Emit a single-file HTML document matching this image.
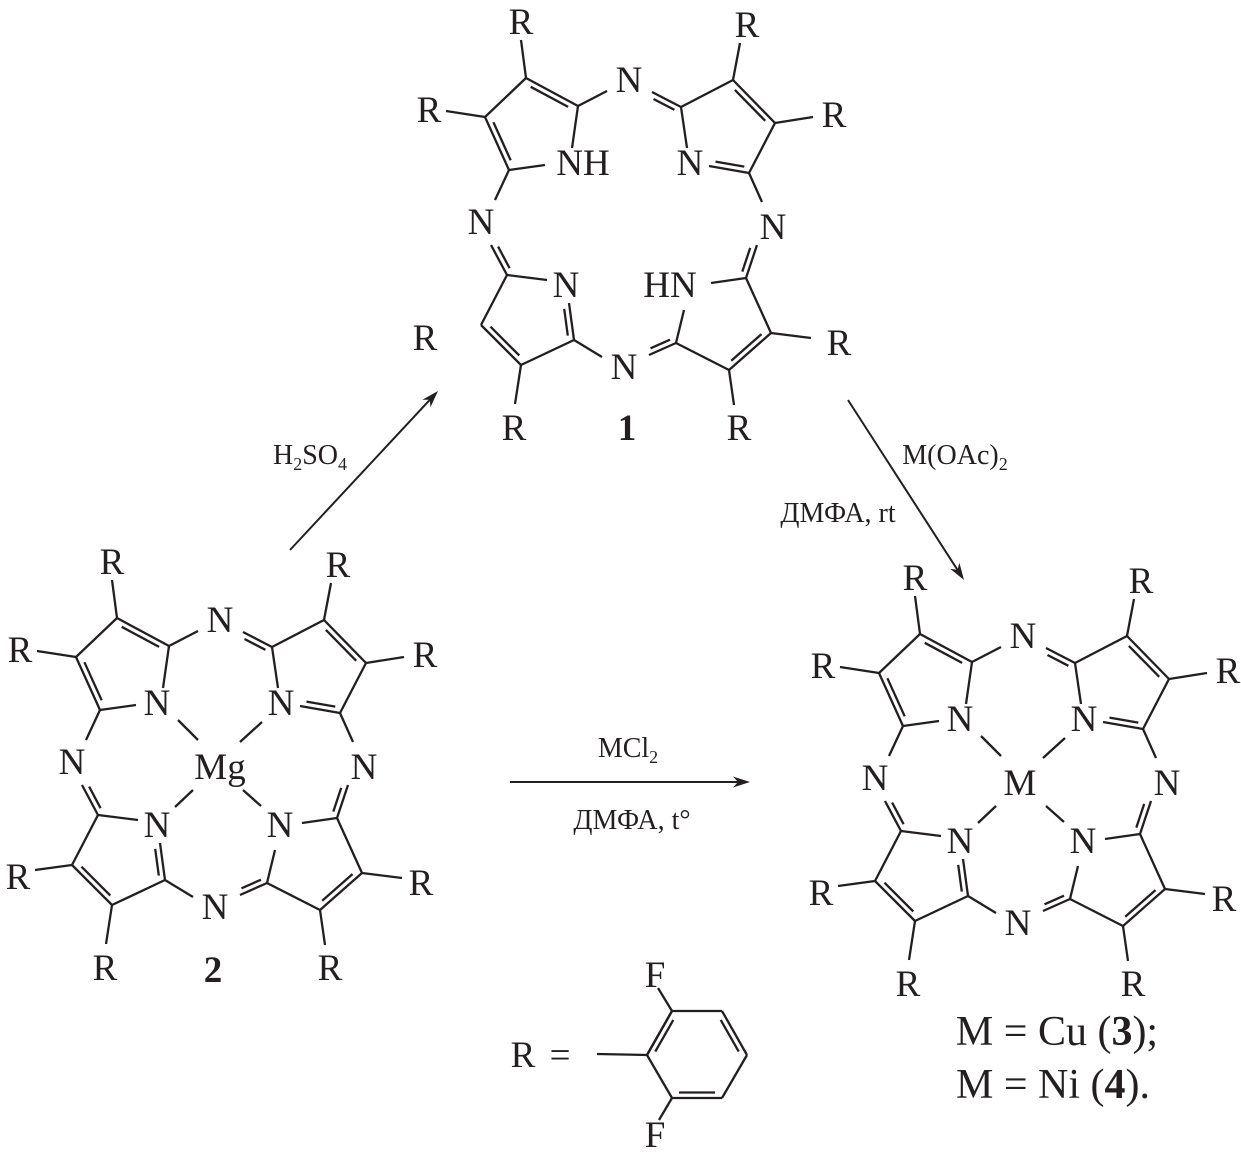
<!DOCTYPE html>
<html><head><meta charset="utf-8"><style>
html,body{margin:0;padding:0;background:#fff}
svg{display:block}
text{font-family:"Liberation Serif",serif;fill:#231f20}
.l{font-size:37px}
.s{font-size:28px}
.b{font-weight:bold}
</style></head><body>
<svg id="sv" width="1241" height="1168" viewBox="0 0 1241 1168" xmlns="http://www.w3.org/2000/svg">
<g id="bonds" stroke="#231f20" stroke-width="2.3" fill="none" stroke-linecap="butt"></g>
<g text-anchor="middle">
<!-- molecule 2 -->
<g class="l">
<text x="112" y="574">R</text><text x="20" y="662">R</text><text x="338" y="577">R</text><text x="425" y="667">R</text>
<text x="18" y="889">R</text><text x="421" y="895">R</text><text x="105" y="980">R</text><text x="330" y="980">R</text>
<text x="220" y="632">N</text><text x="157" y="715">N</text><text x="281" y="715">N</text>
<text x="72" y="774">N</text><text x="220" y="779">Mg</text><text x="364" y="779">N</text>
<text x="157" y="837">N</text><text x="280" y="837">N</text><text x="215" y="919">N</text>
<text x="213" y="982" class="b">2</text>
</g>
<!-- molecule 1 -->
<g class="l">
<text x="521" y="34">R</text><text x="429" y="122">R</text><text x="747" y="37">R</text><text x="834" y="127">R</text>
<text x="629" y="92">N</text><text x="583" y="175">NH</text><text x="690" y="175">N</text>
<text x="481" y="234">N</text><text x="773" y="239">N</text>
<text x="566" y="297">N</text><text x="670" y="297">HN</text><text x="624" y="379">N</text>
<text x="425" y="350">R</text><text x="839" y="355">R</text><text x="514" y="440">R</text><text x="739" y="440">R</text>
<text x="627" y="440" class="b">1</text>
</g>
<!-- molecule 3 -->
<g class="l">
<text x="915" y="590">R</text><text x="823" y="678">R</text><text x="1141" y="593">R</text><text x="1228" y="683">R</text>
<text x="1023" y="648">N</text><text x="960" y="731">N</text><text x="1084" y="731">N</text>
<text x="875" y="790">N</text><text x="1020" y="795">M</text><text x="1167" y="795">N</text>
<text x="960" y="853">N</text><text x="1083" y="853">N</text><text x="1018" y="935">N</text>
<text x="821" y="905">R</text><text x="1224" y="911">R</text><text x="908" y="996">R</text><text x="1133" y="996">R</text>
<text x="1057" y="1045" style="font-size:42px">M = Cu (<tspan class="b">3</tspan>);</text>
<text x="1053" y="1098" style="font-size:42px">M = Ni (<tspan class="b">4</tspan>).</text>
</g>
<!-- R definition -->
<g class="l">
<text x="523" y="1067">R</text><text x="560" y="1067">=</text>
<text x="655" y="987">F</text><text x="655" y="1147">F</text>
</g>
<!-- reagents -->
<g class="s">
<text x="310" y="464">H<tspan font-size="18" dy="6">2</tspan><tspan dy="-6">SO</tspan><tspan font-size="18" dy="6">4</tspan></text>
<text x="955" y="464">M(OAc)<tspan font-size="18" dy="6">2</tspan></text>
<text x="838" y="522">ДМФА, rt</text>
<text x="628" y="757">MCl<tspan font-size="18" dy="6">2</tspan></text>
<text x="632" y="829">ДМФА,  t°</text>
</g>
</g>
</svg>
<script>
(function(){
var g=document.getElementById('bonds');var NS='http://www.w3.org/2000/svg';
function L(p,q,w){var e=document.createElementNS(NS,'line');e.setAttribute('x1',p[0].toFixed(1));e.setAttribute('y1',p[1].toFixed(1));e.setAttribute('x2',q[0].toFixed(1));e.setAttribute('y2',q[1].toFixed(1));if(w)e.setAttribute('stroke-width',w);g.appendChild(e);}
function D(p,q,c){L(p,q);var dx=q[0]-p[0],dy=q[1]-p[1],len=Math.hypot(dx,dy);var nx=-dy/len,ny=dx/len;var mx=(p[0]+q[0])/2,my=(p[1]+q[1])/2;if((c[0]-mx)*nx+(c[1]-my)*ny<0){nx=-nx;ny=-ny;}var o=5.5,s=0.14;L([p[0]+dx*s+nx*o,p[1]+dy*s+ny*o],[q[0]-dx*s+nx*o,q[1]-dy*s+ny*o]);}
var a1=[117,618],a2=[76,657],a3=[100,710],a4=[169,646],a5=[272,647],a6=[324,620],a7=[366,663],a8=[340,713],
b1=[337,818],b2=[362,873],b3=[320,910],b4=[267,883],c1=[98,815],c2=[72,865],c3=[112,905],c4=[165,880];
var TL=[124,675],TR=[317,670],BL=[122,860],BR=[315,862],C=[217,767];
var B=[['s',a1,a2],['d',a2,a3,TL],['s',a3,[136,705]],['s',[163,688],a4],['d',a4,a1,TL],
['s',a4,[198,631]],['d',[243,632],a5,C],
['s',a5,a6],['d',a6,a7,TR],['s',a7,a8],['d',a8,[300,706],TR],['s',[278,688],a5],
['s',a8,[353,742]],['d',[348,785],b1,C],
['s',b1,[302,823]],['s',b1,b2],['d',b2,b3,BR],['s',b3,b4],['s',b4,[275,850]],
['d',b4,[240,895],C],['s',[193,897],c4],
['s',c1,[138,820]],['s',c1,c2],['d',c2,c3,BL],['s',c3,c4],['d',c4,[160,843],BL],
['s',a3,[86,740]],['d',[82,785],c1,C],
['s',a1,[112,580],'R'],['s',a2,[37,651],'R'],['s',a6,[331,583],'R'],['s',a7,[404,657],'R'],
['s',c2,[35,870],'RX'],['s',c3,[106,944],'R'],['s',b2,[402,878],'R'],['s',b3,[325,945],'R'],
['s',[178,720],[198,740],'M'],['s',[262,722],[240,742],'M'],['s',[175,807],[193,790],'M'],['s',[261,806],[243,790],'M']];
function draw(f,m1){B.forEach(function(b){if(m1&&(b[3]==='M'||b[3]==='RX'))return;var p=f(b[1]),q=f(b[2]);if(b[0]==='d')D(p,q,f(b[3]));else L(p,q);});}
draw(function(p){return p;},false);
draw(function(p){return [p[0]+409,p[1]-540];},true);
draw(function(p){return [p[0]+803,p[1]+16];},false);
var r1=[647,1055],r2=[672,1011],r3=[722,1011],r4=[747,1055],r5=[722,1098],r6=[672,1098],rc=[697,1055];
L(r1,r2);D(r1,r2,rc);L(r2,r3);D(r3,r4,rc);L(r4,r5);D(r5,r6,rc);L(r6,r1);
L([597,1054],r1);L(r2,[658,988]);L(r6,[659,1120]);
function A(p,q){var dx=q[0]-p[0],dy=q[1]-p[1],len=Math.hypot(dx,dy),ux=dx/len,uy=dy/len;var hl=17,hw=5.5;var bx=q[0]-ux*hl,by=q[1]-uy*hl;L(p,[q[0]-ux*8,q[1]-uy*8],2);var e=document.createElementNS(NS,'polygon');e.setAttribute('points',q[0]+','+q[1]+' '+(bx-uy*hw)+','+(by+ux*hw)+' '+(q[0]-ux*12)+','+(q[1]-uy*12)+' '+(bx+uy*hw)+','+(by-ux*hw));e.setAttribute('fill','#231f20');e.setAttribute('stroke','none');g.appendChild(e);}
A([290,550],[438,391]);A([848,400],[964,580]);A([510,782],[750,782]);
})();
</script>
</body></html>
